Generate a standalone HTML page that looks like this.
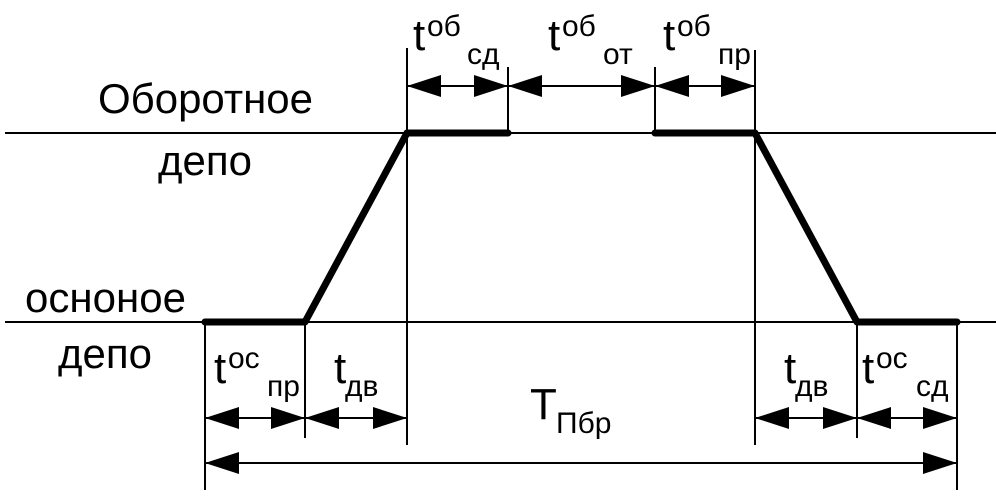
<!DOCTYPE html><html><head><style>body{margin:0;background:#fff}svg{display:block}</style></head><body>
<svg width="996" height="502" viewBox="0 0 996 502" xmlns="http://www.w3.org/2000/svg" font-family="Liberation Sans, DejaVu Sans, sans-serif">
<defs>
<marker id="a" markerWidth="34" markerHeight="22" refX="33" refY="11" orient="auto-start-reverse" markerUnits="userSpaceOnUse"><path d="M0,0 L34,11 L0,22 Z" fill="#000"/></marker>
</defs>
<g stroke="#000" stroke-width="2" fill="none">
<line x1="5" y1="133" x2="996" y2="133"/>
<line x1="5" y1="322" x2="996" y2="322"/>
<line x1="407" y1="48" x2="407" y2="445"/>
<line x1="508" y1="67" x2="508" y2="133"/>
<line x1="655" y1="67" x2="655" y2="133"/>
<line x1="755" y1="50" x2="755" y2="445"/>
<line x1="205" y1="322" x2="205" y2="490"/>
<line x1="305" y1="322" x2="305" y2="438"/>
<line x1="857" y1="322" x2="857" y2="438"/>
<line x1="957" y1="322" x2="957" y2="490"/>
<g marker-start="url(#a)" marker-end="url(#a)">
<line x1="408" y1="86" x2="507" y2="86"/>
<line x1="509" y1="86" x2="654" y2="86"/>
<line x1="656" y1="86" x2="754" y2="86"/>
<line x1="206" y1="418" x2="304" y2="418"/>
<line x1="306" y1="418" x2="406" y2="418"/>
<line x1="756" y1="418" x2="856" y2="418"/>
<line x1="858" y1="418" x2="956" y2="418"/>
<line x1="206" y1="463" x2="956" y2="463"/>
</g>
<polyline points="205,322 305,322 407,133 508,133" stroke-width="7" stroke-linecap="round" stroke-linejoin="round"/>
<polyline points="655,133 755,133 857,322 957,322" stroke-width="7" stroke-linecap="round" stroke-linejoin="round"/>
</g>
<g fill="#000">
<text x="98" y="113" font-size="42" textLength="215" lengthAdjust="spacingAndGlyphs">Оборотное</text>
<text x="158" y="175" font-size="42">депо</text>
<text x="25" y="312" font-size="42" textLength="161" lengthAdjust="spacingAndGlyphs">осноное</text>
<text x="58" y="368" font-size="42">депо</text>
<text x="413" y="50" font-size="44">t</text><text x="427" y="36" font-size="30">об</text><text x="467" y="64" font-size="30">сд</text>
<text x="548" y="50" font-size="44">t</text><text x="562" y="36" font-size="30">об</text><text x="603" y="64" font-size="30">от</text>
<text x="663" y="50" font-size="44">t</text><text x="677" y="36" font-size="30">об</text><text x="718" y="64" font-size="30">пр</text>
<text x="214" y="383" font-size="44">t</text><text x="228" y="368" font-size="30">ос</text><text x="267" y="396" font-size="30">пр</text>
<text x="334" y="383" font-size="44">t</text><text x="345" y="396" font-size="30">дв</text>
<text x="784" y="383" font-size="44">t</text><text x="795" y="396" font-size="30">дв</text>
<text x="862" y="383" font-size="44">t</text><text x="876" y="368" font-size="30">ос</text><text x="916" y="396" font-size="30">сд</text>
<text x="530" y="419" font-size="44">T</text><text x="556" y="433" font-size="30">Пбр</text>
</g>
</svg></body></html>
